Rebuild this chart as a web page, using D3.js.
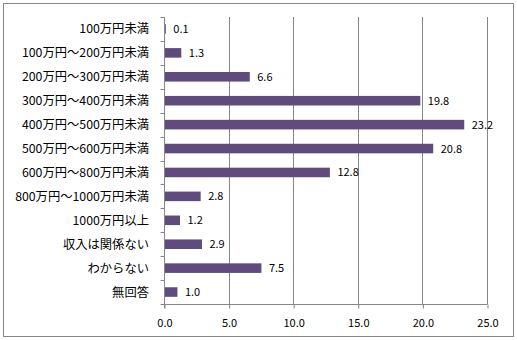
<!DOCTYPE html>
<html>
<head>
<meta charset="utf-8">
<script src="https://cdn.jsdelivr.net/npm/d3@7"></script>
<style>
  html, body { margin: 0; padding: 0; background: #fff; }
  svg text { font-family: "Noto Sans CJK JP", "DejaVu Sans", sans-serif; font-size: 11px; fill: #000; }
  svg text.cat { font-size: 12.3px; }
</style>
</head>
<body>
<svg id="chart" width="517" height="340"></svg>
<script>
// Income brackets (top to bottom) and their shares in percent
const categories = [
  "100万円未満",
  "100万円～200万円未満",
  "200万円～300万円未満",
  "300万円～400万円未満",
  "400万円～500万円未満",
  "500万円～600万円未満",
  "600万円～800万円未満",
  "800万円～1000万円未満",
  "1000万円以上",
  "収入は関係ない",
  "わからない",
  "無回答"
];
const values = [0.1, 1.3, 6.6, 19.8, 23.2, 20.8, 12.8, 2.8, 1.2, 2.9, 7.5, 1.0];
const xTicks = [0, 5, 10, 15, 20, 25];

const svg = d3.select("#chart");
const lineColor = "#868686";
const barColor = "#5F4B7D";

// Outer frame
svg.append("rect")
  .attr("x", 3.5).attr("y", 3.5)
  .attr("width", 510).attr("height", 333)
  .attr("fill", "none").attr("stroke", lineColor);

const plot = { left: 164, right: 487, top: 17, bottom: 304 };

const x = d3.scaleLinear().domain([0, 25]).range([plot.left, plot.right]);
const y = d3.scaleBand().domain(categories).range([plot.top, plot.bottom]).paddingInner(0.6).paddingOuter(0.3);
const yEdge = d3.scaleLinear().domain([0, categories.length]).range([plot.top, plot.bottom]);

// Vertical gridlines
svg.append("g").selectAll("line")
  .data(xTicks.filter(t => t > 0))
  .join("line")
  .attr("x1", d => Math.round(x(d)) + 0.5).attr("x2", d => Math.round(x(d)) + 0.5)
  .attr("y1", plot.top).attr("y2", plot.bottom)
  .attr("stroke", lineColor);

// Bars
svg.append("g").selectAll("rect")
  .data(values)
  .join("rect")
  .attr("x", x(0) + 0.5)
  .attr("y", (d, i) => y(categories[i]))
  .attr("width", d => x(d) - x(0))
  .attr("height", y.bandwidth())
  .attr("fill", barColor);

// Value labels
svg.append("g").selectAll("text")
  .data(values)
  .join("text")
  .attr("x", d => x(d) + 8)
  .attr("y", (d, i) => y(categories[i]) + y.bandwidth() / 2 + 4)
  .text(d => d.toFixed(1));

// Category axis (left) with ticks at band edges
const yAxisX = Math.round(x(0)) + 0.5;
svg.append("line")
  .attr("x1", yAxisX).attr("x2", yAxisX)
  .attr("y1", plot.top).attr("y2", plot.bottom + 4)
  .attr("stroke", lineColor);
svg.append("g").selectAll("line")
  .data(d3.range(categories.length + 1))
  .join("line")
  .attr("x1", yAxisX - 4).attr("x2", yAxisX)
  .attr("y1", d => Math.round(yEdge(d)) + 0.5).attr("y2", d => Math.round(yEdge(d)) + 0.5)
  .attr("stroke", lineColor);
svg.append("g").selectAll("text")
  .data(categories)
  .join("text")
  .attr("class", "cat")
  .attr("x", 149)
  .attr("y", d => y(d) + y.bandwidth() / 2 + 4.5)
  .attr("text-anchor", "end")
  .text(d => d);

// Value axis (bottom)
const xAxis = d3.axisBottom(x)
  .tickValues(xTicks)
  .tickSize(4)
  .tickFormat(d => d.toFixed(1));
const gx = svg.append("g")
  .attr("transform", `translate(0.5,${plot.bottom + 0.5})`)
  .call(xAxis);
gx.select(".domain").attr("stroke", lineColor).attr("d", `M${plot.left},0H${plot.right}`);
gx.selectAll(".tick line").attr("stroke", lineColor);
gx.selectAll(".tick text")
  .attr("dy", 0).attr("y", 22)
  .style("font-family", "\"Noto Sans CJK JP\", \"DejaVu Sans\", sans-serif")
  .style("font-size", "11px")
  .attr("fill", "#000");
</script>
</body>
</html>
